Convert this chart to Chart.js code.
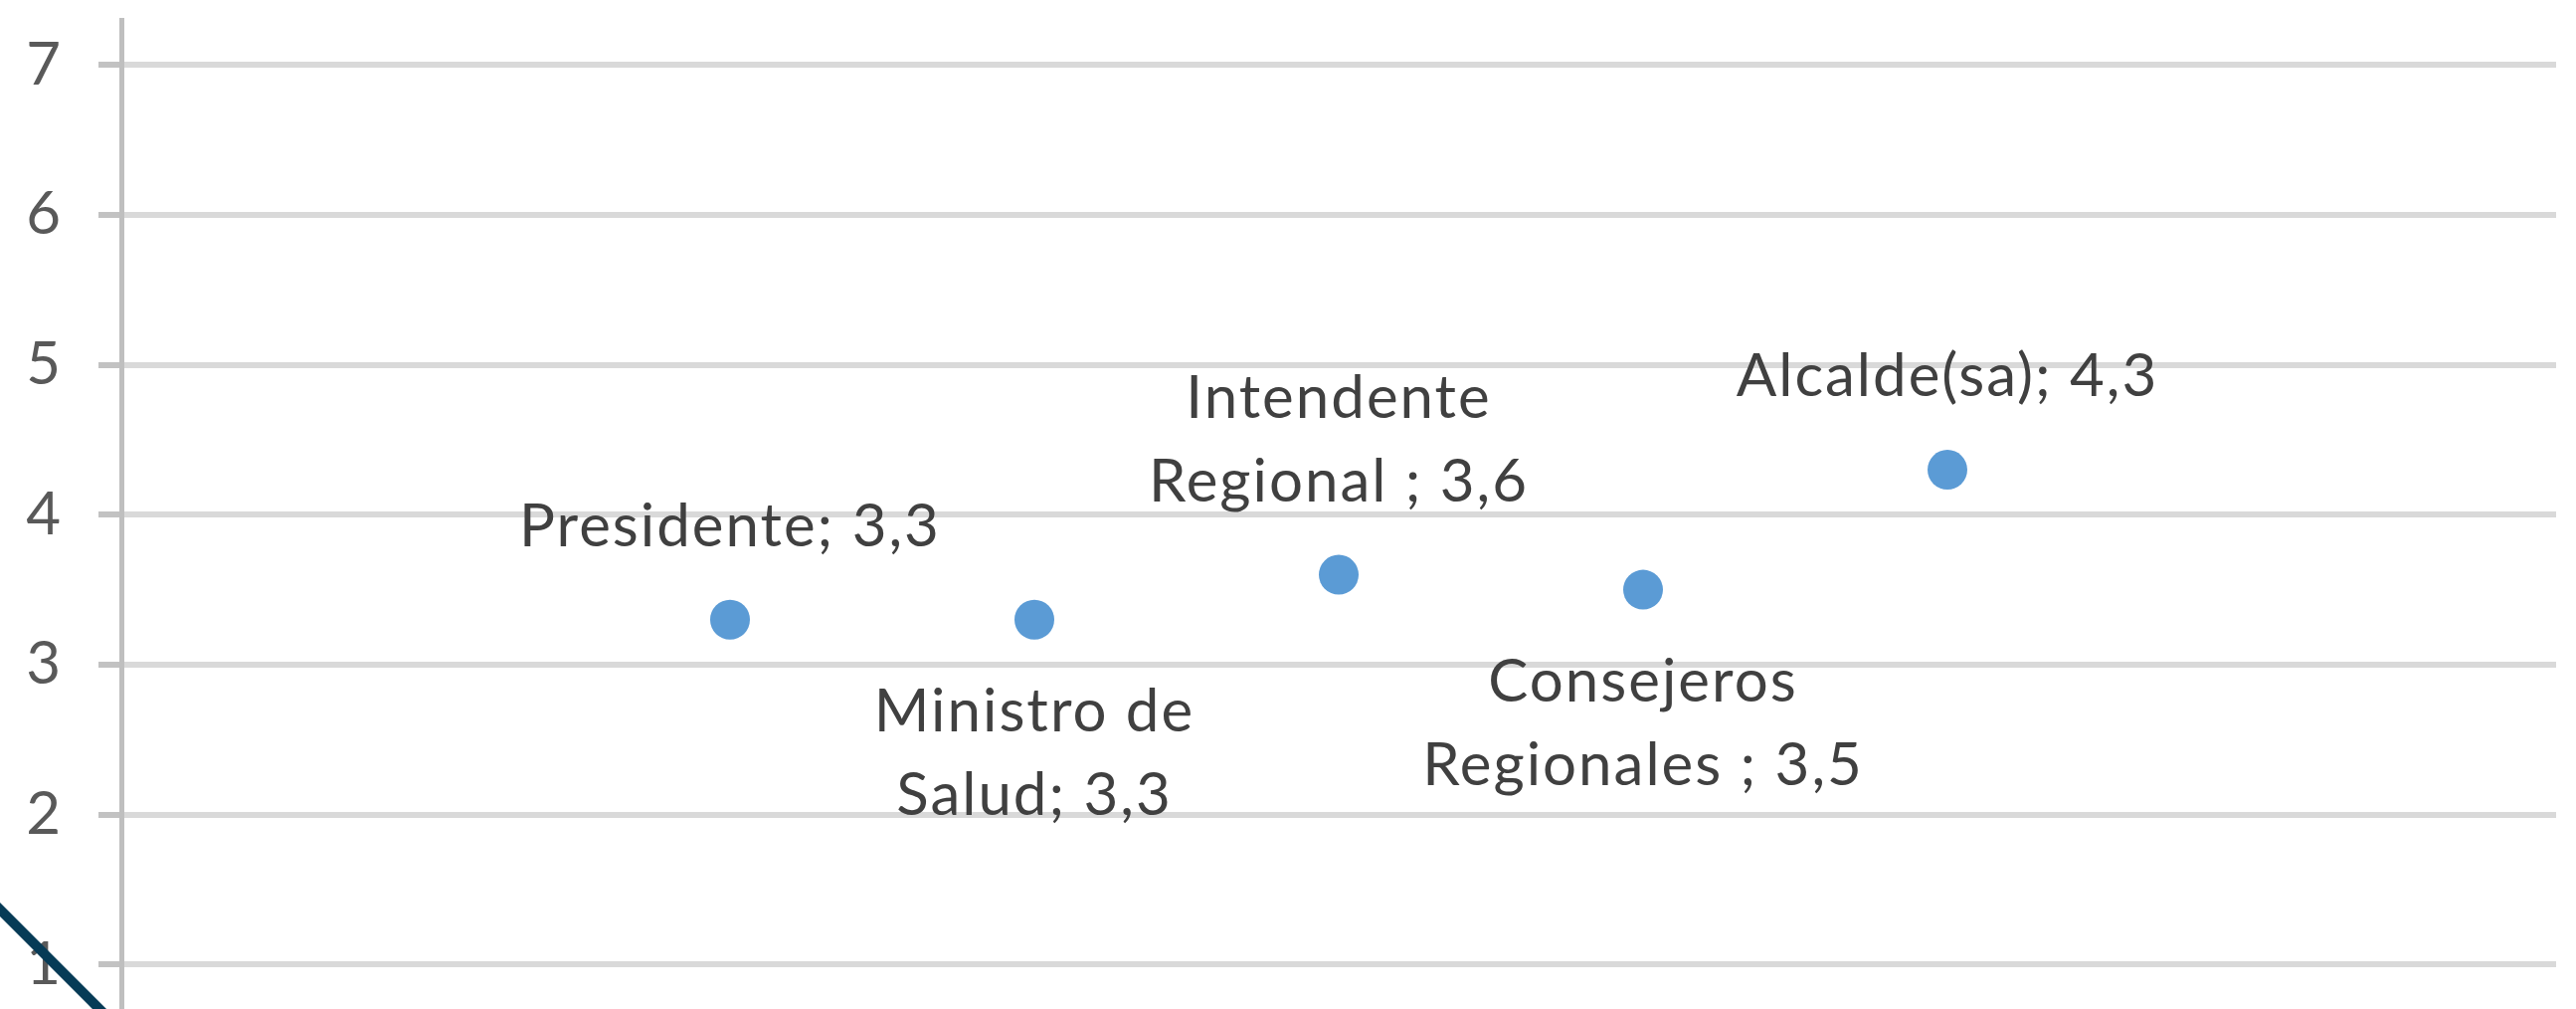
<!DOCTYPE html>
<html lang="es">
<head>
<meta charset="utf-8">
<title>Evaluación de autoridades</title>
<script src="https://cdn.jsdelivr.net/npm/chart.js@4.4.1/dist/chart.umd.min.js"></script>
<style>
    html, body {
        margin: 0;
        padding: 0;
        background: #ffffff;
        overflow: hidden;
    }
    #wrap {
        position: relative;
        width: 2590px;
        height: 1140px;
    }
</style>
</head>
<body>
<div id="wrap"><canvas id="scoreChart"></canvas></div>
<script>
// === DATA ===
const categories = [
    ['Presidente'],
    ['Ministro de', 'Salud'],
    ['Intendente', 'Regional '],
    ['Consejeros', 'Regionales '],
    ['Alcalde(sa)']
];
const positions = [1, 2, 3, 4, 5];
const scores = [3.3, 3.3, 3.6, 3.5, 4.3];
const yTicks = [1, 2, 3, 4, 5, 6, 7];

// which side of the point each label goes
const labelSides = ['top', 'bottom', 'top', 'bottom', 'top'];

function formatValue(v) {
    return v.toFixed(1).replace('.', ',');
}

// === DATA LABELS PLUGIN ===
const pointLabels = {
    id: 'pointLabels',
    afterDatasetsDraw(chart) {
        const ctx = chart.ctx;
        const meta = chart.getDatasetMeta(0);
        ctx.save();
        ctx.font = '60px Lato';
        ctx.letterSpacing = '2px';
        ctx.fillStyle = '#404040';
        ctx.textAlign = 'center';
        ctx.textBaseline = 'alphabetic';
        const lineGap = 84;
        meta.data.forEach((pt, i) => {
            const lines = categories[i].slice();
            lines[lines.length - 1] = lines[lines.length - 1] + '; ' + formatValue(scores[i]);
            let y;
            if (labelSides[i] === 'top') {
                y = pt.y - 74 - (lines.length - 1) * lineGap;
            } else {
                y = pt.y + 112;
            }
            lines.forEach(line => {
                ctx.fillText(line, pt.x, y);
                y += lineGap;
            });
        });
        ctx.restore();
    }
};

// === CORNER STROKE (stray line in the original image) ===
const cornerStroke = {
    id: 'cornerStroke',
    afterDraw(chart) {
        const ctx = chart.ctx;
        ctx.save();
        ctx.strokeStyle = '#063b56';
        ctx.lineWidth = 10;
        ctx.beginPath();
        ctx.moveTo(-10, 904);
        ctx.lineTo(140, 1054);
        ctx.stroke();
        ctx.restore();
    }
};

// === CHART ===
new Chart(document.getElementById('scoreChart'), {
    type: 'scatter',
    data: {
        datasets: [{
            data: positions.map((x, i) => ({ x: x, y: scores[i] })),
            backgroundColor: '#5b9bd5',
            borderWidth: 0,
            pointRadius: 20,
            pointHoverRadius: 20
        }]
    },
    options: {
        responsive: true,
        maintainAspectRatio: false,
        animation: false,
        layout: {
            padding: { top: 14, right: 12, bottom: 10, left: 0 }
        },
        plugins: {
            legend: { display: false },
            tooltip: { enabled: false }
        },
        scales: {
            x: {
                type: 'linear',
                min: -1,
                max: 7,
                display: false
            },
            y: {
                min: 0,
                max: 7.3,
                afterBuildTicks: scale => {
                    scale.ticks = yTicks.map(v => ({ value: v }));
                },
                afterFit: scale => {
                    scale.width = 122;
                    scale.paddingTop = 0;
                    scale.paddingBottom = 0;
                },
                ticks: {
                    color: '#595959',
                    font: { family: 'Lato', size: 60 },
                    padding: 38
                },
                grid: {
                    color: '#d9d9d9',
                    lineWidth: 6,
                    tickLength: 23,
                    tickColor: '#c2c2c2',
                    tickWidth: 6
                },
                border: {
                    color: '#bfbfbf',
                    width: 5
                }
            }
        }
    },
    plugins: [pointLabels, cornerStroke]
});
</script>
</body>
</html>
